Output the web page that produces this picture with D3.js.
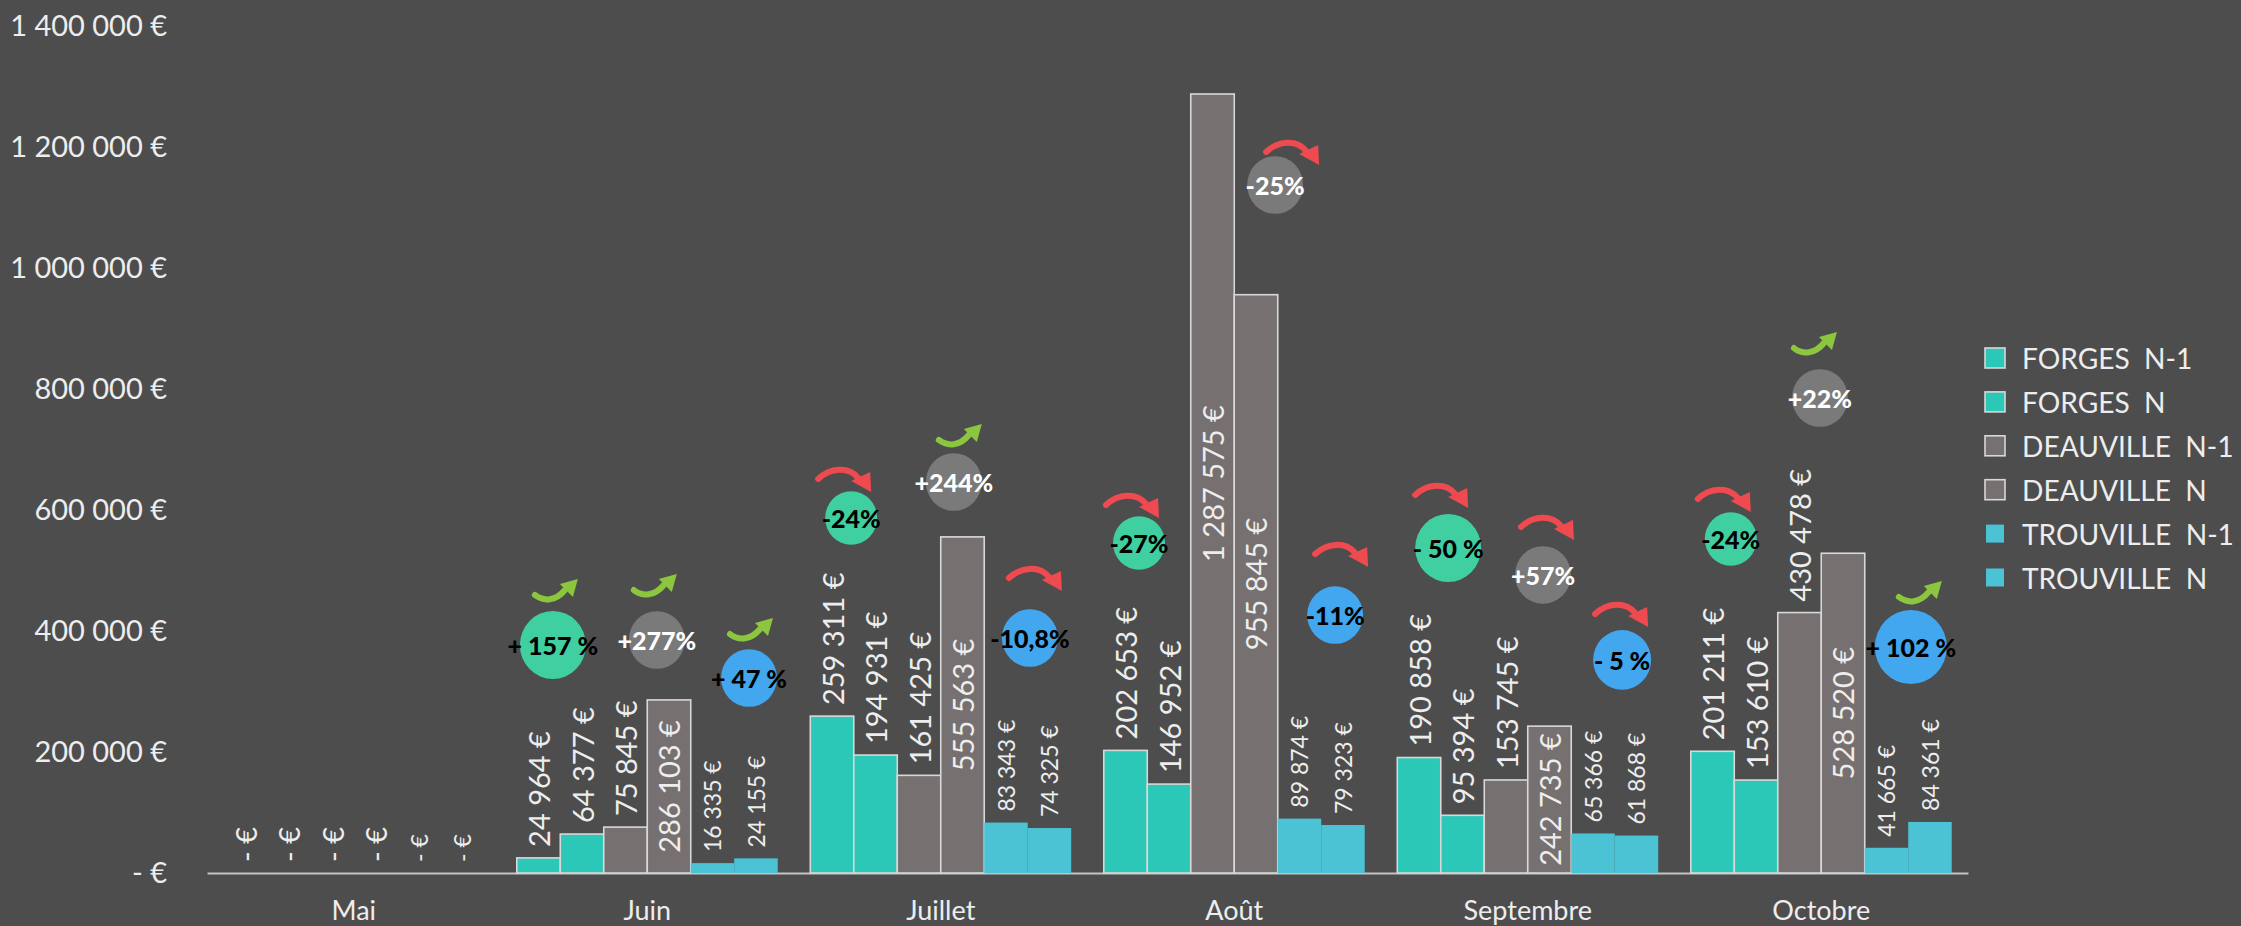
<!DOCTYPE html>
<html><head><meta charset="utf-8">
<script src="https://cdn.jsdelivr.net/npm/d3@7"></script>
<style>
html,body{margin:0;padding:0;background:#4d4d4d;}
svg{display:block;}
text{font-family:Lato,"Open Sans",sans-serif;}
</style></head><body>
<svg id="chart" width="2241" height="926"></svg>
<script>
// ---------- DATA ----------
const months = ["Mai","Juin","Juillet","Août","Septembre","Octobre"];
const seriesNames = ["FORGES  N-1","FORGES  N","DEAUVILLE  N-1","DEAUVILLE  N","TROUVILLE  N-1","TROUVILLE  N"];
const forgesN1    = [0, 24964, 259311, 202653, 190858, 201211];
const forgesN     = [0, 64377, 194931, 146952,  95394, 153610];
const deauvilleN1 = [0, 75845, 161425, 1287575, 153745, 430478];
const deauvilleN  = [0, 286103, 555563, 955845, 242735, 528520];
const trouvilleN1 = [0, 16335, 83343, 89874, 65366, 41665];
const trouvilleN  = [0, 24155, 74325, 79323, 61868, 84361];
const yTicks = [0, 200000, 400000, 600000, 800000, 1000000, 1200000, 1400000];

// evolution N vs N-1 (annotations), months Juin..Octobre
const changeMonths    = ["Juin","Juillet","Août","Septembre","Octobre"];
const changeForges    = ["+ 157 %","-24%","-27%","- 50 %","-24%"];
const changeDeauville = ["+277%","+244%","-25%","+57%","+22%"];
const changeTrouville = ["+ 47 %","-10,8%","-11%","- 5 %","+ 102 %"];
const trendForges     = ["up","down","down","down","down"];
const trendDeauville  = ["up","up","down","down","up"];
const trendTrouville  = ["up","down","down","down","up"];

// ---------- LAYOUT / STYLE ----------
const W = 2241, H = 926;
const plot = {left:207, right:1968, top:26, bottom:873};
const siteColor = ["#2bc8b7","#767170","#4bc3d4"];
const bubbleColor = ["#40cfa1","#7a7a7a","#42a7ef"];
const bubbleText = ["#000","#fff","#000"];
const arrowColor = {up:"#8cc63f", down:"#ee4a50"};
const textColor = "#ededed";

// bubble layout per month (slot position in bar widths from group start, level in €, radius, arrow dx, arrow gap)
const bubbleLayout = [
  [[0.83,376900,33,3,9],[3.22,385100,28,-2,14],[5.34,322300,28,2,8]],
  [[0.94,586800,26,-7,0],[3.30,646300,28,6,6],[5.05,388400,28,5,19]],
  [[0.81,545500,26,-7,-1],[3.94,1137200,28,17,-8],[5.32,426400,28,6,20]],
  [[1.17,537200,33,-7,7],[3.35,492600,28,4,7],[5.17,352100,29,-1,4]],
  [[0.92,552100,26,-7,1],[2.97,785100,28,-5,14],[5.06,373600,36,9,6]]
];

const series = [forgesN1, forgesN, deauvilleN1, deauvilleN, trouvilleN1, trouvilleN];

const svg = d3.select("#chart");
svg.append("rect").attr("width",W).attr("height",H).attr("fill","#4d4d4d");

const x0 = d3.scaleBand().domain(months).range([plot.left, plot.right]).paddingInner(0.111).paddingOuter(0.0555);
const x1 = d3.scaleBand().domain(d3.range(6)).range([0, x0.bandwidth()]);
const y = d3.scaleLinear().domain([0, 1400000]).range([plot.bottom, plot.top]);

const loc = d3.formatLocale({decimal:",", thousands:" ", grouping:[3], currency:["",""]});
const f = loc.format(",.0f");
const fmt = v => v === 0 ? "- €" : f(v) + " €";

// Y axis
const yAxis = svg.append("g").attr("transform",`translate(${plot.left},0)`)
  .call(d3.axisLeft(y).tickValues(yTicks).tickFormat(fmt).tickSize(0).tickPadding(40));
yAxis.select(".domain").remove();
yAxis.selectAll("text").attr("fill",textColor).style("font-size","29px").style("font-family","Lato");

// X axis
const xAxis = svg.append("g").attr("transform",`translate(0,${plot.bottom})`)
  .call(d3.axisBottom(x0).tickSize(0).tickSizeOuter(0));
xAxis.select(".domain").attr("stroke","#c4c4c4").attr("stroke-width",2);
xAxis.selectAll("text").attr("fill",textColor).style("font-size","27px").style("font-family","Lato")
  .attr("y",47).attr("dy",0);

// Bars
const bars = [];
series.forEach((arr, s) => arr.forEach((v, m) => bars.push({s, m, v, site: Math.floor(s/2)})));
const gBars = svg.append("g");
gBars.selectAll("rect").data(bars.filter(d => d.v > 0)).join("rect")
  .attr("x", d => x0(months[d.m]) + x1(d.s))
  .attr("width", x1.bandwidth())
  .attr("y", d => y(d.v))
  .attr("height", d => y(0) - y(d.v))
  .attr("fill", d => siteColor[d.site])
  .attr("stroke", d => d.site === 2 ? "none" : "#d8d8d8")
  .attr("stroke-width", 1.6);

// Data labels
const gLab = svg.append("g");
bars.forEach(d => {
  const fs = d.site === 2 ? 23 : 29;
  const cx = x0(months[d.m]) + x1(d.s) + x1.bandwidth()/2;
  const t = gLab.append("text").text(fmt(d.v))
    .attr("fill", textColor).style("font-size", fs + "px")
    .attr("dominant-baseline","central");
  const len = t.node().getComputedTextLength();
  const top = y(d.v);
  let centered = d.v > 0 && (d.s === 3 || top - 11 - len < plot.top + 10);
  if (centered) {
    t.attr("text-anchor","middle").attr("transform",`translate(${cx},${(top + y(0))/2}) rotate(-90)`);
  } else {
    t.attr("text-anchor","start").attr("transform",`translate(${cx},${top - 11}) rotate(-90)`);
  }
});

// Bubbles with arrows
const gB = svg.append("g");
function drawArrow(g, cx, bottom, trend) {
  const col = arrowColor[trend];
  if (trend === "up") {
    const a = g.append("g").attr("transform",`translate(${cx-22},${bottom-24})`);
    a.append("path").attr("d","M1,16 C10,23 22,22 31,11").attr("fill","none")
      .attr("stroke",col).attr("stroke-width",6).attr("stroke-linecap","round");
    a.append("path").attr("d","M26,5 L44,0 L39,18 Z").attr("fill",col);
  } else {
    const a = g.append("g").attr("transform",`translate(${cx-28},${bottom-25})`);
    a.append("path").attr("d","M2,12 C14,1 32,-1 42,11").attr("fill","none")
      .attr("stroke",col).attr("stroke-width",6).attr("stroke-linecap","round");
    a.append("path").attr("d","M35,14 L54,5 L55,25 Z").attr("fill",col);
  }
}
const changes = [changeForges, changeDeauville, changeTrouville];
const trends = [trendForges, trendDeauville, trendTrouville];
changeMonths.forEach((mName, i) => {
  for (let site = 0; site < 3; site++) {
    const [slot, level, r, adx, agap] = bubbleLayout[i][site];
    const cx = x0(mName) + slot * x1.bandwidth();
    const cy = y(level);
    gB.append("ellipse").attr("cx",cx).attr("cy",cy).attr("rx",r).attr("ry",r*1.03).attr("fill",bubbleColor[site]);
    gB.append("text").attr("x",cx).attr("y",cy).text(changes[site][i])
      .attr("text-anchor","middle").attr("dominant-baseline","central")
      .attr("fill",bubbleText[site]).style("font-size","25px").style("font-weight","900");
    drawArrow(gB, cx + adx, cy - r - agap, trends[site][i]);
  }
});

// Legend
const gL = svg.append("g").attr("transform","translate(1985,358)");
const legendTexts = [];
seriesNames.forEach((name, i) => {
  const site = Math.floor(i/2);
  const row = gL.append("g").attr("transform",`translate(0,${i*43.9})`);
  row.append("rect").attr("x", site===2?1:0).attr("y",site===2?-9:-10)
    .attr("width",site===2?18:20).attr("height",site===2?18:20)
    .attr("fill",siteColor[site]).attr("stroke",site===2?"none":"#d8d8d8").attr("stroke-width",1.6);
  legendTexts.push(row.append("text").attr("x",37).attr("y",0).attr("dominant-baseline","central")
    .style("white-space","pre").style("font-size","30px").attr("fill",textColor).text(name));
});
const maxLen = d3.max(legendTexts, t => t.node().getComputedTextLength());
const legendSize = Math.min(30, 30 * 212 / maxLen);
legendTexts.forEach(t => t.style("font-size", legendSize + "px"));
</script>
</body></html>
